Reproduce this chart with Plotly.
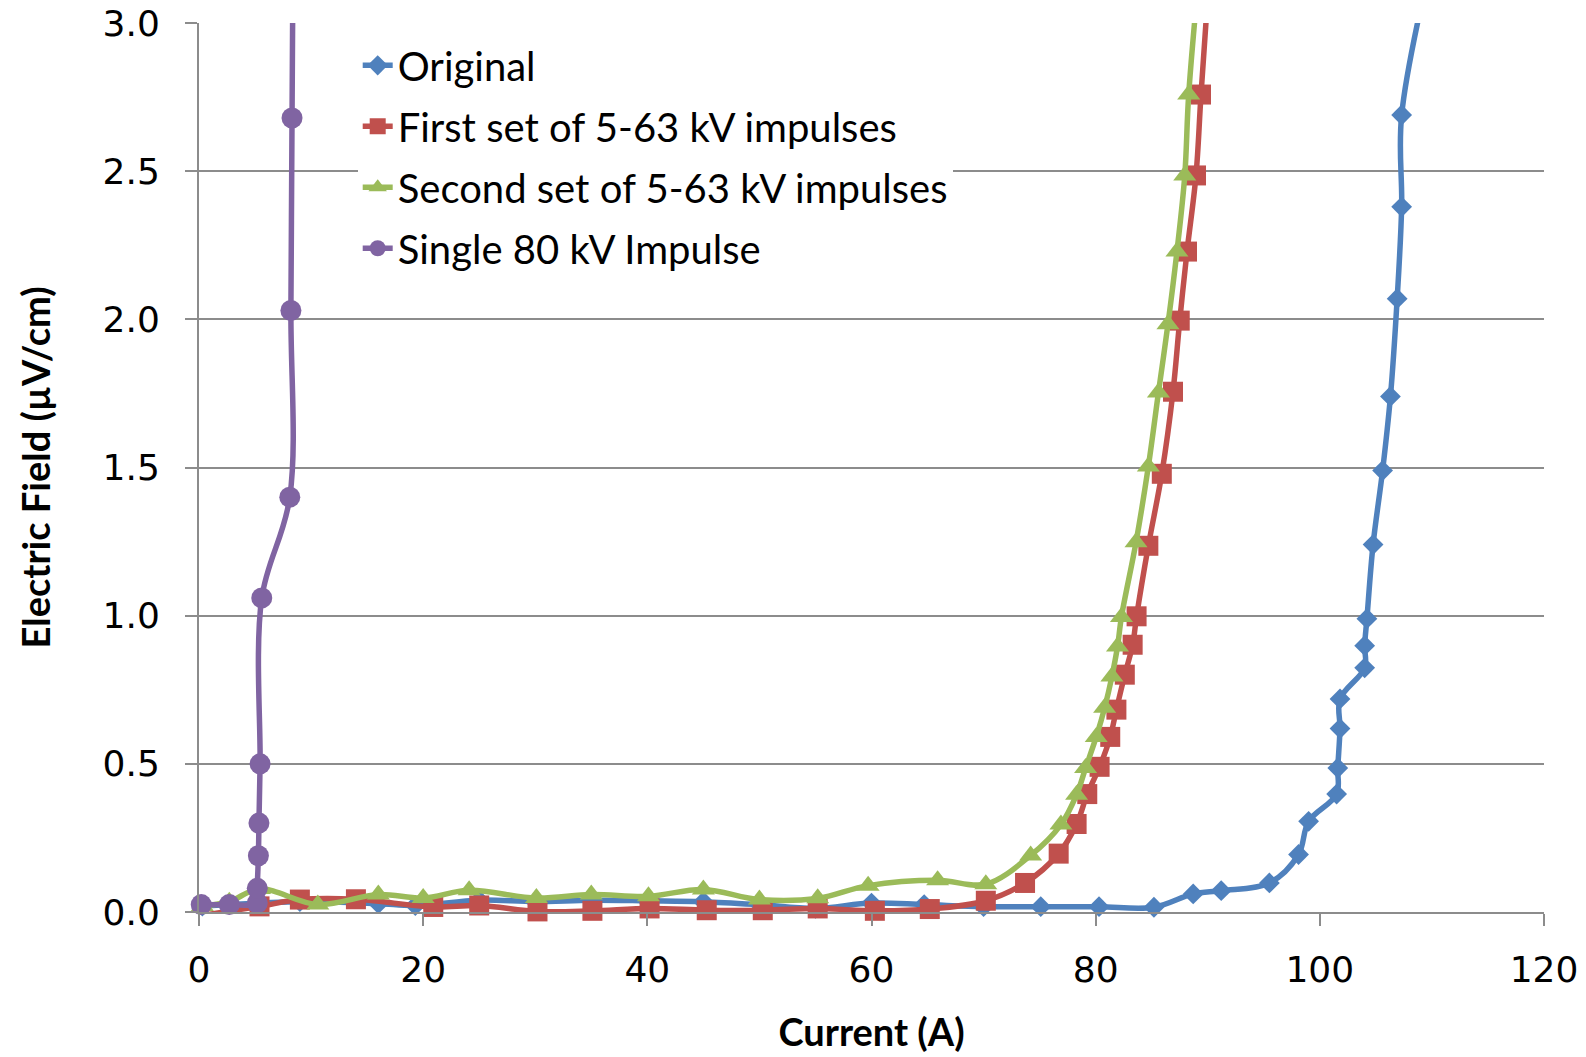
import plotly.graph_objects as go

# ---------------- data ----------------
orig_x = [0.3, 5.5, 9.0, 16.0, 19.3, 25.0, 30.0, 35.0, 40.0, 45.0, 50.0, 55.0, 60.0, 64.7, 70.0,
          75.1, 80.3, 85.2, 88.7, 91.2, 95.5, 98.1, 99.0, 101.5, 101.6, 101.8, 101.8, 104.0, 104.0,
          104.2, 104.75, 105.6, 106.3, 106.9, 107.3, 107.3, 110.5]
orig_y = [0.02, 0.03, 0.035, 0.028, 0.022, 0.04, 0.035, 0.04, 0.038, 0.035, 0.025, 0.012, 0.03, 0.025, 0.018,
          0.018, 0.018, 0.016, 0.061, 0.072, 0.098, 0.194, 0.306, 0.398, 0.486, 0.619, 0.719, 0.824, 0.899,
          0.99, 1.24, 1.49, 1.74, 2.07, 2.38, 2.69, 3.3]

first_x = [0.2, 5.4, 9.0, 14.0, 20.9, 25.0, 30.2, 35.1, 40.2, 45.3, 50.3, 55.2, 60.3, 65.2, 70.2,
           73.7, 76.7, 78.3, 79.25, 80.35, 81.3, 81.85, 82.6, 83.3, 83.65, 84.7, 85.9, 86.9, 87.5,
           88.15, 88.95, 89.4, 90.2]
first_y = [-0.012, 0.019, 0.042, 0.043, 0.017, 0.022, 0.002, 0.004, 0.012, 0.006, 0.006, 0.012, 0.004, 0.01, 0.038,
           0.098, 0.197, 0.297, 0.398, 0.49, 0.591, 0.683, 0.801, 0.902, 0.998, 1.236, 1.479, 1.756, 1.996,
           2.229, 2.486, 2.759, 3.2]

second_x = [0.3, 2.7, 5.4, 10.6, 16.0, 20.0, 24.1, 30.1, 35.0, 40.1, 45.0, 50.0, 55.2, 59.7, 65.9, 70.2,
            74.2, 76.9, 78.3, 79.1, 80.05, 80.8, 81.45, 81.95, 82.3, 83.6, 84.7, 85.6, 86.45, 87.25,
            87.95, 88.3, 89.3]
second_y = [0.02, 0.035, 0.078, 0.025, 0.059, 0.047, 0.073, 0.047, 0.059, 0.053, 0.076, 0.042, 0.046, 0.089, 0.107, 0.094,
            0.191, 0.295, 0.396, 0.486, 0.591, 0.689, 0.795, 0.896, 0.996, 1.248, 1.504, 1.753, 1.984, 2.229,
            2.486, 2.759, 3.2]

single_x = [0.2, 2.7, 5.2, 5.2, 5.3, 5.35, 5.45, 5.6, 8.1, 8.2, 8.3, 8.4]
single_y = [0.025, 0.025, 0.03, 0.08, 0.19, 0.30, 0.50, 1.06, 1.40, 2.03, 2.68, 3.3]

names = ["Original", "First set of 5-63 kV impulses", "Second set of 5-63 kV impulses", "Single 80 kV Impulse"]
x_ticks = [0, 20, 40, 60, 80, 100, 120]
y_ticks = [0.0, 0.5, 1.0, 1.5, 2.0, 2.5, 3.0]

# ---------------- styling ----------------
series = [
    (orig_x, orig_y, "#4F81BD", "diamond", 16),
    (first_x, first_y, "#C0504D", "square", 20),
    (second_x, second_y, "#9BBB59", "triangle-up", 20),
    (single_x, single_y, "#8064A2", "circle", 21),
]

fig = go.Figure()
for i, (xs, ys, col, sym, sz) in enumerate(series):
    sizes = [sz if y <= 3.0 else 0 for y in ys]
    fig.add_trace(go.Scatter(
        x=xs, y=ys, name=names[i], mode="lines+markers",
        line=dict(color=col, width=5.5, shape="spline", smoothing=1.0),
        marker=dict(symbol=sym, size=sizes, color=col, opacity=1, line=dict(width=0)),
        cliponaxis=False, legendgroup=str(i),
    ))

axis_col = "#8C8C8C"
fig.update_layout(
    width=1586, height=1057,
    margin=dict(l=199, r=42, t=23, b=145),
    plot_bgcolor="white", paper_bgcolor="white",
    showlegend=True,
    legend=dict(
        x=0.118, y=0.989, xanchor="left", yanchor="top",
        bgcolor="white", borderwidth=0,
        font=dict(family="Lato", size=40, color="black"),
        tracegroupgap=6, traceorder="grouped",
    ),
    xaxis=dict(
        range=[0, 120.0001], tickvals=x_ticks, ticktext=[str(v) for v in x_ticks],
        showgrid=False, zeroline=False, automargin=False, ticklabeloverflow="allow",
        showline=True, linecolor=axis_col, linewidth=2,
        ticks="outside", ticklen=12, tickwidth=2, tickcolor=axis_col,
        tickfont=dict(family="DejaVu Sans", size=36, color="black"),
        ticklabelstandoff=13,
        title=dict(text="<b>Current (A)</b>", font=dict(family="Lato", size=38, color="black"), standoff=30),
    ),
    yaxis=dict(
        range=[0, 3.0005], tickvals=y_ticks, ticktext=["%.1f" % v for v in y_ticks],
        showgrid=True, gridcolor=axis_col, gridwidth=2, zeroline=False, automargin=False,
        ticklabeloverflow="allow",
        showline=True, linecolor=axis_col, linewidth=2,
        ticks="outside", ticklen=12, tickwidth=2, tickcolor=axis_col,
        tickfont=dict(family="DejaVu Sans", size=36, color="black"),
        ticklabelstandoff=18,
        title=dict(text="<b>Electric Field (µV/cm)</b>", font=dict(family="Lato", size=38, color="black"), standoff=40),
    ),
)

fig.write_html("out.html", config={"displayModeBar": False},
               post_script="document.body.style.margin='0px';")
